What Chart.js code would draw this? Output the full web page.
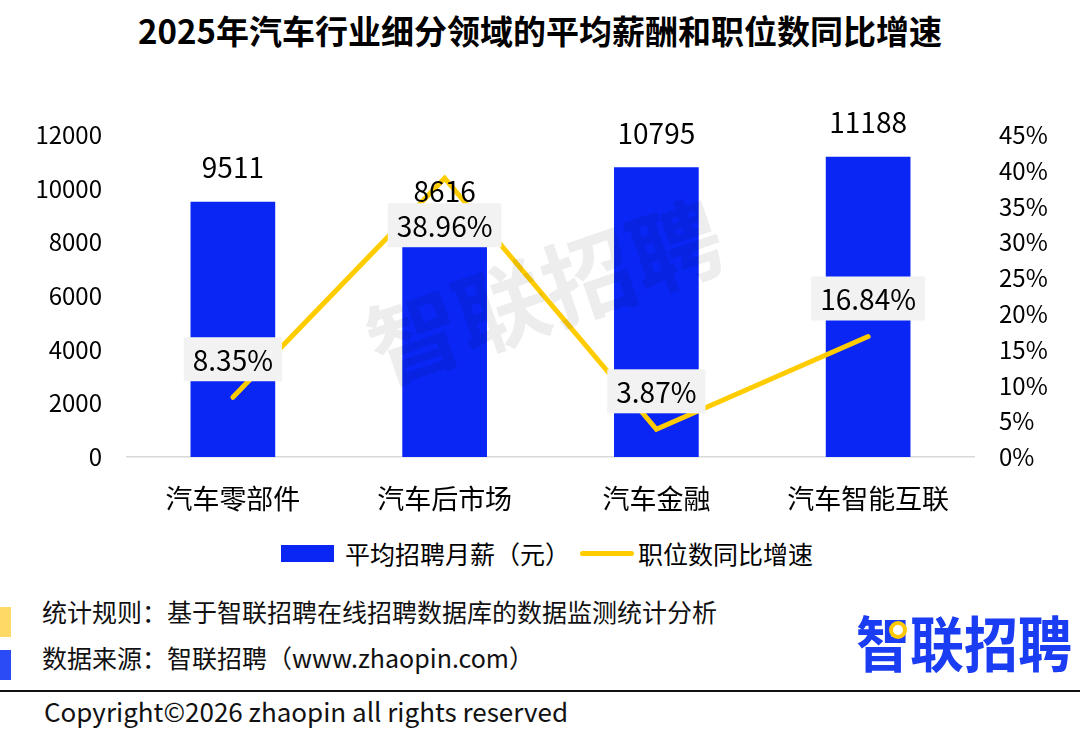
<!DOCTYPE html>
<html lang="zh">
<head>
  <meta charset="UTF-8">
  <title>2025年汽车行业细分领域的平均薪酬和职位数同比增速</title>
  <script src="https://cdn.jsdelivr.net/npm/chart.js"></script>
  <style>
    body {
      margin: 0;
      width: 1080px;
      height: 754px;
      background: #fff;
      font-family: "Noto Sans CJK SC", "Noto Sans", sans-serif;
      color: #000;
      position: relative;
      overflow: hidden;
    }
    #title {
      position: absolute;
      top: 7px; left: 0; width: 1080px;
      text-align: center;
      font-size: 33px;
      font-weight: bold;
      line-height: 46px;
    }
    #chartBox {
      position: absolute;
      top: 0; left: 0;
    }
    #legend {
      position: absolute;
      top: 538px; left: 7px; width: 1080px;
      display: flex;
      justify-content: center;
      align-items: center;
      font-size: 25px;
      line-height: 30px;
    }
    .lg-item { display: flex; align-items: center; margin: 0 5px; }
    .lg-bar { width: 53px; height: 17px; margin-right: 11px; }
    .lg-line { width: 54px; height: 5px; border-radius: 3px; margin-right: 4px; }
    .sq { position: absolute; left: 0; width: 11px; height: 30px; }
    .note {
      position: absolute; left: 42px;
      font-size: 25px; line-height: 30px;
      color: #111;
    }
    #logo {
      position: absolute;
      left: 856px; top: 608px;
      font-size: 54px; font-weight: bold;
      color: #1a3cf2;
      line-height: 60px;
      transform: scaleY(1.12);
      transform-origin: left top;
    }
    #pin {
      position: absolute;
      left: 889px; top: 621px;
      width: 10px; height: 10px;
      border: 4px solid #ffc800;
      border-radius: 50%;
      background: #fff;
    }
    #rule {
      position: absolute; left: 0; top: 690px;
      width: 1080px; height: 2px; background: #111;
    }
    #copy {
      position: absolute; left: 44px; top: 693px;
      font-size: 26px; line-height: 36px; color: #111;
    }
  </style>
</head>
<body>
<div id="title">2025年汽车行业细分领域的平均薪酬和职位数同比增速</div>
<div id="chartBox"><canvas id="chart" width="1080" height="520"></canvas></div>
<div id="legend"></div>
<div class="sq" style="top:607px;background:#ffd966"></div>
<div class="sq" style="top:650px;background:#2a4bf5"></div>
<div class="note" style="top:596px">统计规则：基于智联招聘在线招聘数据库的数据监测统计分析</div>
<div class="note" style="top:642px">数据来源：智联招聘（www.zhaopin.com）</div>
<div id="logo">智联招聘</div>
<div id="pin"></div>
<div id="rule"></div>
<div id="copy">Copyright©2026 zhaopin all rights reserved</div>
<script>
// 数据
const categories = ['汽车零部件', '汽车后市场', '汽车金融', '汽车智能互联'];
const salary = [9511, 8616, 10795, 11188];
const growth = [8.35, 38.96, 3.87, 16.84];
const seriesNames = ['平均招聘月薪（元）', '职位数同比增速'];
const leftTicks = [0, 2000, 4000, 6000, 8000, 10000, 12000];
const rightTicks = [0, 5, 10, 15, 20, 25, 30, 35, 40, 45];

const BLUE = '#0a26f5';
const GOLD = '#ffcc00';
const FONT = '"Noto Sans CJK SC", "Noto Sans", sans-serif';
// 折线标签放在点的上方或下方
const growthLabelSide = ['up', 'down', 'up', 'up'];

const labelPlugin = {
  id: 'labels',
  afterDatasetsDraw(chart) {
    const ctx = chart.ctx;
    // 水印
    ctx.save();
    ctx.translate(545, 292);
    ctx.rotate(-19 * Math.PI / 180);
    ctx.font = 'bold 92px ' + FONT;
    ctx.fillStyle = 'rgba(0,0,0,0.07)';
    ctx.textAlign = 'center';
    ctx.textBaseline = 'middle';
    ctx.fillText('智联招聘', 0, 0);
    ctx.restore();

    ctx.save();
    ctx.font = '28px ' + FONT;
    ctx.textAlign = 'center';
    ctx.textBaseline = 'middle';
    ctx.fillStyle = '#000';
    chart.getDatasetMeta(0).data.forEach((bar, i) => {
      ctx.fillText(String(salary[i]), bar.x, bar.y - 34);
    });
    chart.getDatasetMeta(1).data.forEach((pt, i) => {
      const txt = growth[i].toFixed(2) + '%';
      const w = ctx.measureText(txt).width + 18;
      const h = 44;
      const cy = growthLabelSide[i] === 'up' ? pt.y - 38 : pt.y + 47;
      ctx.fillStyle = '#f2f2f2';
      ctx.fillRect(pt.x - w / 2, cy - h / 2, w, h);
      ctx.fillStyle = '#000';
      ctx.fillText(txt, pt.x, cy + 1);
    });
    ctx.restore();
  }
};

const chart = new Chart(document.getElementById('chart'), {
  type: 'bar',
  data: {
    labels: categories,
    datasets: [
      {
        type: 'bar', label: seriesNames[0], data: salary,
        backgroundColor: BLUE, yAxisID: 'y', order: 1,
        categoryPercentage: 0.8, barPercentage: 0.5
      },
      {
        type: 'line', label: seriesNames[1], data: growth,
        borderColor: GOLD, borderWidth: 5, borderCapStyle: 'round', borderJoinStyle: 'miter',
        pointRadius: 0, tension: 0, yAxisID: 'y1', order: 0
      }
    ]
  },
  options: {
    responsive: false,
    animation: false,
    layout: { padding: { top: 135, left: 0, right: 0, bottom: 0 } },
    plugins: {
      legend: { display: false },
      tooltip: { enabled: false }
    },
    scales: {
      x: {
        grid: { display: false },
        border: { display: true, color: '#d9d9d9', width: 1.5 },
        ticks: { color: '#000', padding: 18, font: { family: FONT, size: 27 } },
        afterFit: s => { s.height = 63; }
      },
      y: {
        position: 'left',
        min: 0, max: 12000,
        afterBuildTicks: s => { s.ticks = leftTicks.map(v => ({ value: v })); },
        grid: { display: false },
        border: { display: false },
        ticks: { color: '#000', padding: 17, font: { family: FONT, size: 24 }, callback: v => String(v) },
        afterFit: s => { s.width = 127; }
      },
      y1: {
        position: 'right',
        min: 0, max: 45,
        afterBuildTicks: s => { s.ticks = rightTicks.map(v => ({ value: v })); },
        grid: { display: false },
        border: { display: false },
        ticks: { color: '#000', padding: 17, font: { family: FONT, size: 24 }, callback: v => v + '%' },
        afterFit: s => { s.width = 106; }
      }
    }
  },
  plugins: [labelPlugin]
});

// 图例
const legend = document.getElementById('legend');
chart.data.datasets.forEach(ds => {
  const item = document.createElement('div');
  item.className = 'lg-item';
  const mark = document.createElement('span');
  if (ds.type === 'bar') {
    mark.className = 'lg-bar';
    mark.style.background = ds.backgroundColor;
  } else {
    mark.className = 'lg-line';
    mark.style.background = ds.borderColor;
  }
  item.appendChild(mark);
  item.appendChild(document.createTextNode(ds.label));
  legend.appendChild(item);
});
</script>
</body>
</html>
